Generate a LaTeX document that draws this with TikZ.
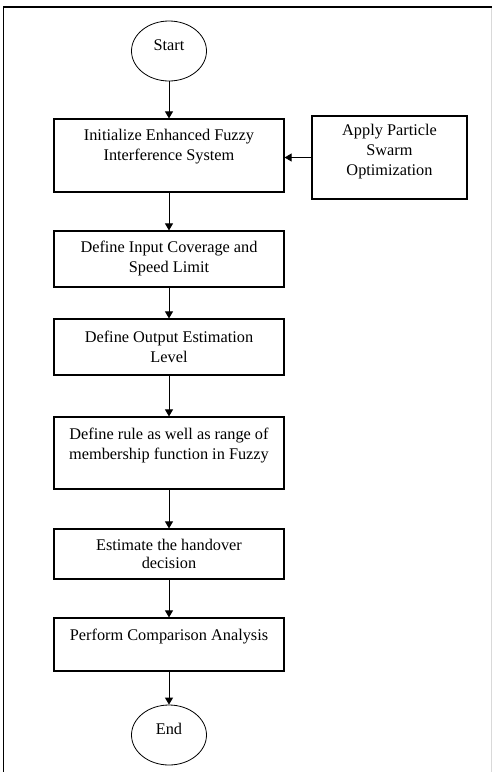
\documentclass[tikz,border=0pt]{standalone}
\usepackage{fontspec}
\setmainfont{Liberation Serif}
\usetikzlibrary{arrows.meta,shapes.geometric}
\begin{document}
\begin{tikzpicture}[x=1pt,y=-1pt,
  procbox/.style={draw, line width=1.2pt, inner sep=0pt, minimum width=230pt},
  txt/.style={align=center, font=\fontsize{16.3}{20}\selectfont, inner sep=0pt},
  term/.style={ellipse, draw, line width=0.8pt, minimum width=75pt, minimum height=60pt, inner sep=0pt},
  arr/.style={-{Triangle[length=7pt,width=8pt]}, line width=0.9pt}]
\fill[white] (0,0) rectangle (492,772);
\useasboundingbox (0,0) rectangle (492,772);
% frame
\draw[line width=1.5pt] (3.5,772) -- (3.5,7) -- (492,7);
\draw[black!15, line width=0.8pt] (491,8) -- (491,772);

% nodes
\node[term] (start) at (169,51) {};
\node[txt] (starttxt) at (169,45) {Start};

\node[procbox, minimum height=73pt] (b1) at (169,155.5) {};
\node[txt] (b1txt) at (169,147) {Initialize Enhanced Fuzzy\\Interference System};

\node[draw, line width=1.2pt, inner sep=0pt, minimum width=155pt, minimum height=83pt] (pso) at (389.5,157.5) {};
\node[txt] (psotxt) at (389.5,152) {Apply Particle\\Swarm\\Optimization};

\node[procbox, minimum height=56pt] (b2) at (169,259) {};
\node[txt] (b2txt) at (169,258.5) {Define Input Coverage and\\Speed Limit};

\node[procbox, minimum height=56pt] (b3) at (169,347) {};
\node[txt] (b3txt) at (169,347) {Define Output Estimation\\Level};

\node[procbox, minimum height=72pt] (b4) at (169,453) {};
\node[txt] (b4txt) at (169,446) {Define rule as well as range of\\membership function in Fuzzy};

\node[procbox, minimum height=50pt] (b5) at (169,554) {};
\node[txt, font=\fontsize{16.3}{18}\selectfont] (b5txt) at (169,554) {Estimate the handover\\decision};

\node[procbox, minimum height=53pt] (b6) at (169,644.5) {};
\node[txt] (b6txt) at (169,637) {Perform Comparison Analysis};

\node[term] (end) at (169,735) {};
\node[txt] (endtxt) at (169,729) {End};

% connectors
\draw[arr] (start.south) -- (b1.north);
\draw[arr] (pso.west) -- (pso.west -| b1.east);
\draw[arr] (b1.south) -- (b2.north);
\draw[arr] (b2.south) -- (b3.north);
\draw[arr] (b3.south) -- (b4.north);
\draw[arr] (b4.south) -- (b5.north);
\draw[arr] (b5.south) -- (b6.north);
\draw[arr] (b6.south) -- (end.north);
\end{tikzpicture}
\end{document}
